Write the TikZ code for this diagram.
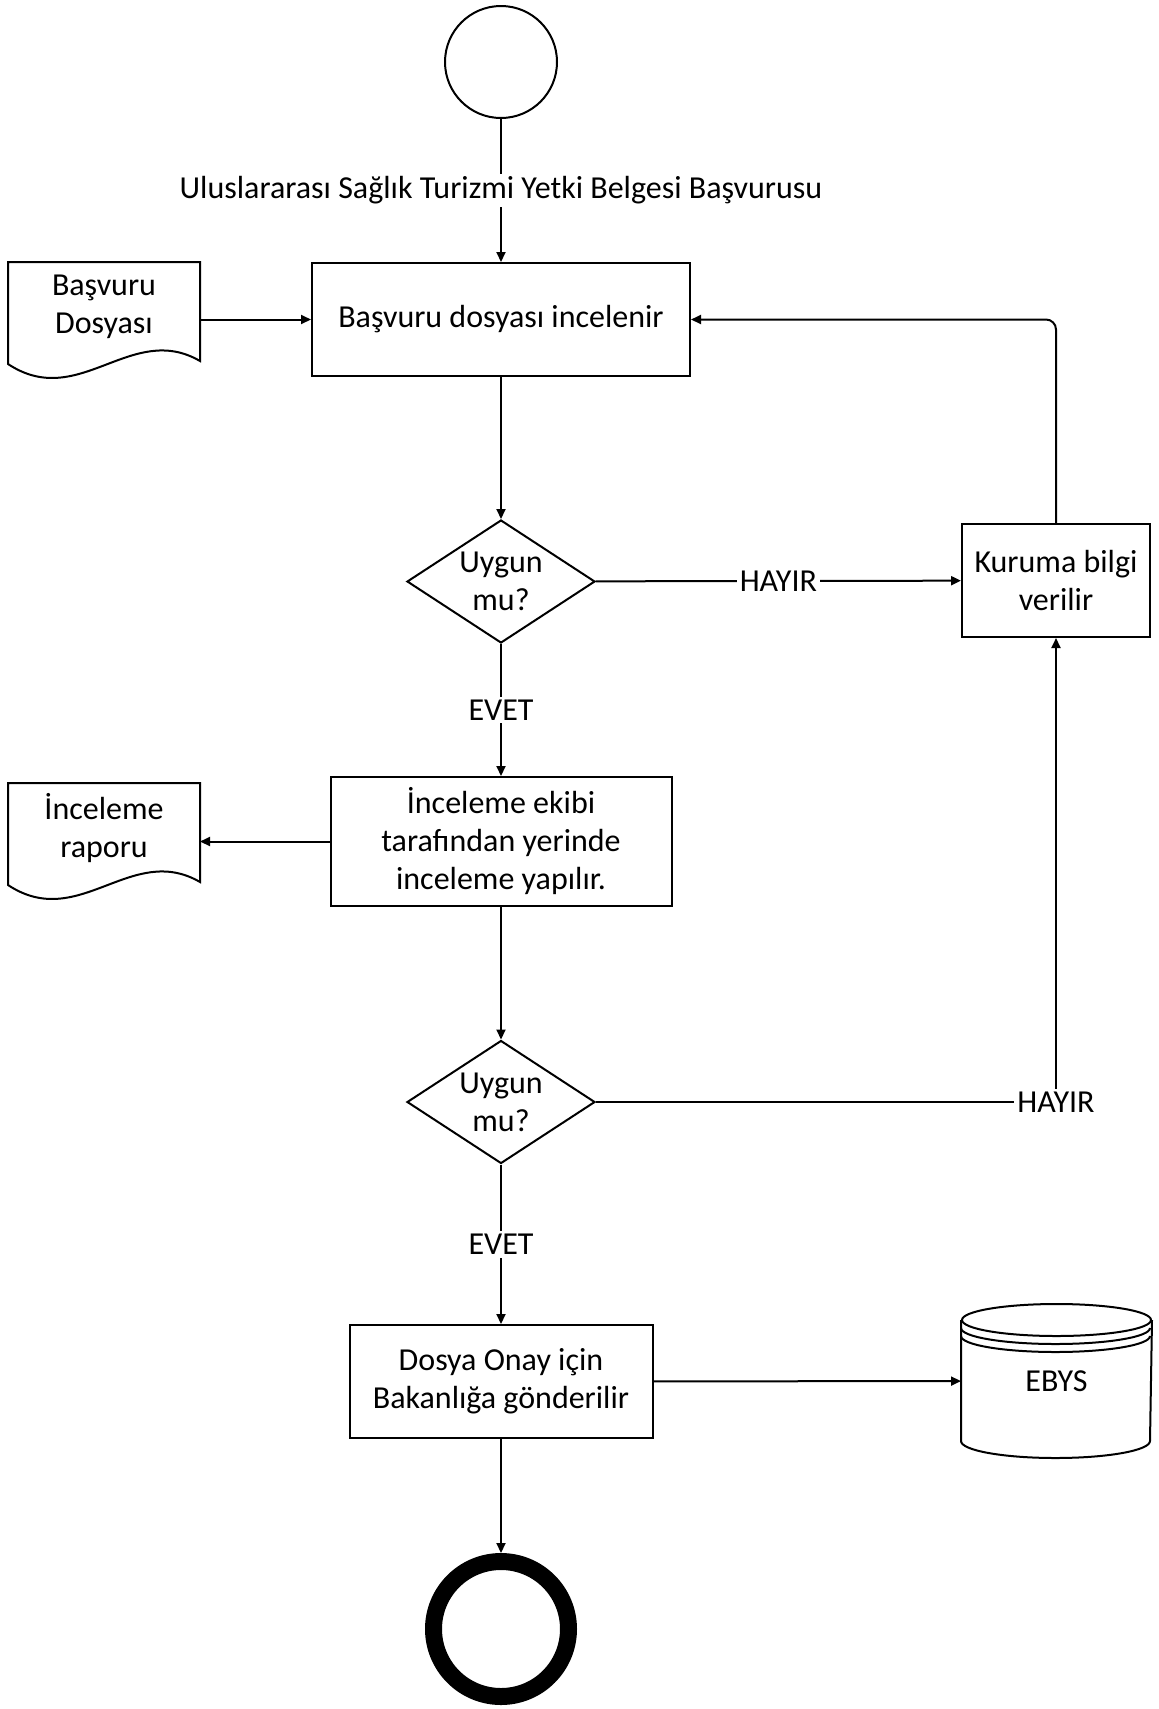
\documentclass[tikz,border=0pt]{standalone}
\usepackage{fontspec}
\setmainfont{Carlito}
\usetikzlibrary{shapes.geometric,arrows.meta,calc}

\begin{document}
\begin{tikzpicture}[x=.5pt,y=-.5pt,line width=1pt,font=\fontsize{16}{19}\selectfont,
 box/.style={draw,align=center,inner sep=0pt},
 karar/.style={draw,diamond,align=center,inner sep=-10pt,minimum width=94pt,minimum height=61.5pt},
 belge/.style={align=center,inner sep=0pt,text depth=8.5pt,minimum width=95pt,minimum height=50pt},
 etiket/.style={fill=white,inner sep=1.5pt},
 ok/.style={-{Triangle[length=5pt,width=4.5pt]}}]
\useasboundingbox (0,0) rectangle (1158,1709);
\node[draw,circle,minimum size=56pt] (bas) at (501,62) {};
\node[box,minimum width=189pt,minimum height=56.5pt] (basvuru) at (501,319.5) {Başvuru dosyası incelenir};
\node[belge] (dosya) at (104,313) {Başvuru\\Dosyası};
\node[karar] (karar1) at (501,581.5) {Uygun\\mu?};
\node[box,minimum width=94pt,minimum height=56.5pt] (kurum) at (1056,580.5) {Kuruma bilgi\\verilir};
\node[box,minimum width=170.5pt,minimum height=64.5pt] (yerinde) at (501,841.5) {İnceleme ekibi\\tarafından yerinde\\inceleme yapılır.};
\node[belge] (rapor) at (104,834) {İnceleme\\raporu};
\node[karar] (karar2) at (501,1102) {Uygun\\mu?};
\node[box,minimum width=151.5pt,minimum height=56.5pt] (onay) at (501,1381.5) {Dosya Onay için\\Bakanlığa gönderilir};
\node[align=center,inner sep=0pt,minimum width=94.5pt,minimum height=76pt] (ebys) at (1056.5,1381) {EBYS};
\node[draw,circle,line width=8.5pt,minimum size=67.5pt] (son) at (501,1629) {};
\draw (dosya.south west) -- (dosya.north west) -- (dosya.north east) -- ($(dosya.south east)+(0,-3)$) .. controls ($(dosya.south east)+(-69,-43)$) and ($(dosya.south west)+(71,47)$) .. (dosya.south west) -- cycle;
\draw (rapor.south west) -- (rapor.north west) -- (rapor.north east) -- ($(rapor.south east)+(0,-3)$) .. controls ($(rapor.south east)+(-69,-43)$) and ($(rapor.south west)+(71,47)$) .. (rapor.south west) -- cycle;
\draw ($(ebys.north)+(0,16)$) ellipse [x radius=94.5,y radius=16];
\draw ($(ebys.north west)+(0,16)$) -- ($(ebys.south west)+(0,-17)$) arc[start angle=180,end angle=0,x radius=94.5,y radius=17] -- ($(ebys.north east)+(0,16)$);
\draw ($(ebys.north west)+(0,24)$) arc[start angle=180,end angle=0,x radius=94.5,y radius=16];
\draw ($(ebys.north west)+(0,32)$) arc[start angle=180,end angle=0,x radius=94.5,y radius=16];
\draw[ok] (bas) -- node[etiket]{Uluslararası Sağlık Turizmi Yetki Belgesi Başvurusu} (basvuru);
\draw[ok] (dosya.east |- basvuru.west) -- (basvuru.west);
\draw[ok] (basvuru) -- (karar1);
\draw[ok] (karar1) -- node[etiket]{HAYIR} (kurum);
\draw[ok,rounded corners=5pt] (kurum) |- (basvuru);
\draw[ok] (karar1) -- node[etiket]{EVET} (yerinde);
\draw[ok] (yerinde.west) -- (rapor.east |- yerinde.west);
\draw[ok] (yerinde) -- (karar2);
\draw[ok] (karar2) -| node[etiket,pos=.5]{HAYIR} (kurum);
\draw[ok] (karar2) -- node[etiket]{EVET} (onay);
\draw[ok] (onay) -- (ebys);
\draw[ok] (onay) -- (son);
\end{tikzpicture}
\end{document}
